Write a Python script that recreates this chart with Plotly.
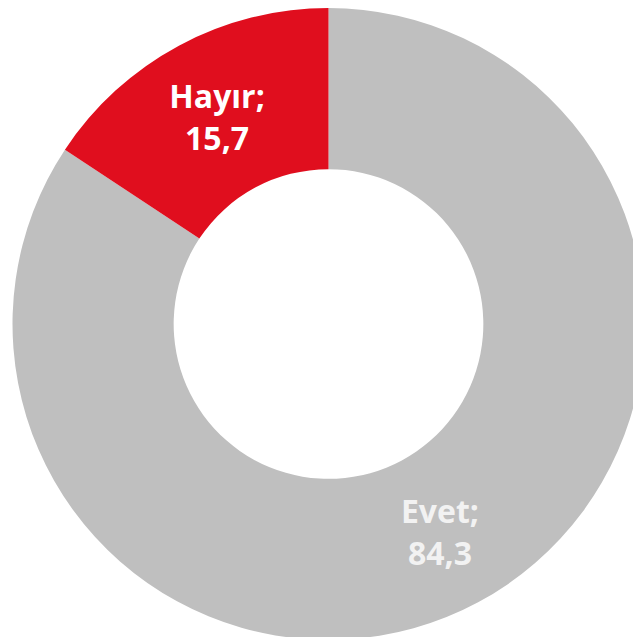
import plotly.graph_objects as go

labels = ['Evet', 'Hayır']
values = [84.3, 15.7]
colors = ['#BFBFBF', '#E00E1E']
text_colors = ['#F2F2F2', '#FFFFFF']

texts = ['%s;<br>%s' % (l, str(v).replace('.', ',')) for l, v in zip(labels, values)]

fig = go.Figure()
fig.add_trace(go.Pie(labels=labels, values=values,
                     hole=0.49, sort=False, direction='clockwise', rotation=0,
                     marker=dict(colors=colors, line=dict(width=0)),
                     text=texts, textinfo='text', textposition='inside',
                     insidetextorientation='horizontal',
                     textfont=dict(family='Open Sans', size=32, color=text_colors, weight='bold'),
                     hoverinfo='label+value'))
fig.update_layout(width=641, height=637,
                  margin=dict(l=0, r=0, t=0, b=5),
                  showlegend=False,
                  paper_bgcolor='white',
                  uniformtext=dict(minsize=32, mode='show'))
fig.write_html("out.html")
